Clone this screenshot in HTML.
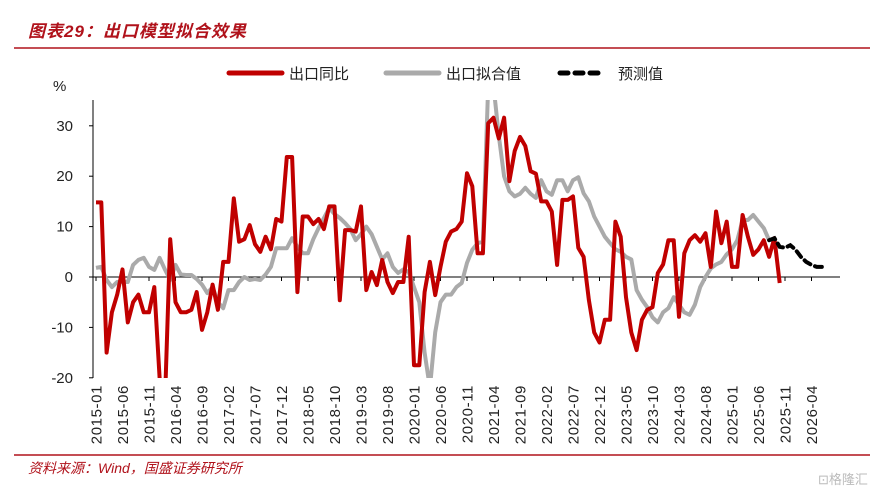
<!DOCTYPE html>
<html><head><meta charset="utf-8"><style>
body{margin:0;background:#fff;width:886px;height:494px;overflow:hidden;font-family:"Liberation Sans","Noto Sans CJK SC",sans-serif}
svg{position:absolute;left:0;top:0}
</style></head><body>
<svg width="886" height="494">
<text x="28" y="37" font-size="17" font-weight="bold" font-style="italic" fill="#b0121b" letter-spacing="1">图表29：出口模型拟合效果</text>
<line x1="14" y1="48" x2="870" y2="48" stroke="#b0121b" stroke-width="1.5"/>
<g>
<line x1="229" y1="73" x2="282" y2="73" stroke="#c00000" stroke-width="5" stroke-linecap="round"/>
<text x="289" y="79" font-size="15" fill="#222">出口同比</text>
<line x1="386" y1="73" x2="439" y2="73" stroke="#aaa" stroke-width="5" stroke-linecap="round"/>
<text x="446" y="79" font-size="15" fill="#222">出口拟合值</text>
<line x1="560" y1="73" x2="605" y2="73" stroke="#000" stroke-width="5" stroke-dasharray="8,7" stroke-linecap="round"/>
<text x="618" y="79" font-size="15" fill="#222">预测值</text>
</g>
<text x="53" y="91" font-size="15" fill="#222">%</text>
<defs><clipPath id="pc"><rect x="93" y="100" width="760" height="278"/></clipPath></defs>
<g id="axes"></g>
<g id="series" clip-path="url(#pc)"></g>
<line x1="14" y1="455" x2="870" y2="455" stroke="#b0121b" stroke-width="1.5"/>
<text x="28" y="473" font-size="14" font-style="italic" fill="#b0121b">资料来源：Wind，国盛证券研究所</text>
<text x="818" y="484" font-size="13" fill="#bbb">⊡格隆汇</text>
</svg>
<script>
const exportYoY=[14.8,14.8,-15,-7,-3.5,1.5,-9,-5,-3.5,-7,-7,-2,-20,-25,7.5,-5,-7,-7,-6.5,-3,-10.5,-7,-1.5,-6.5,3,3,15.6,7,7.5,10.3,6.5,5,8,5.5,11.5,11,23.8,23.8,-3,12,12,10.5,11.5,9.5,14,14,
-4.6,9.3,9.3,9,14,-2.6,1,-1.6,3.4,-1,-3.2,-1,-1,8,-17.5,-17.5,-3,3,-3.6,2,7,9,9.5,11,20.6,18,4.7,4.7,30.5,31.6,27.5,31.6,19,25,27.8,26,21,20.5,15,15,13,2.4,15.3,15.3,16,5.8,
4,-4.6,-11,-13,-8.5,-8.5,11,8,-4,-11,-14.5,-8.5,-6.5,-6,0.8,2.5,7.3,7.3,-7.9,4.7,7.3,8.3,7,8.7,2,13,6.7,11,2,2,12.3,8,4.4,5.5,7.3,4,7.7,-1.2];
const fitted=[1.8,2,-0.6,-2,-1,-1,-1,2.4,3.4,3.8,2,1.4,3.8,1.5,-0.6,2.4,0.5,0.4,0.4,-0.4,-1.5,-3.2,-2,-5,-6.2,-2.6,-2.6,-1,0,-0.6,-0.4,-0.6,0.5,2,5.7,5.7,5.7,7.7,6,4.7,4.7,7.5,9.7,11.7,13.7,12.5,11.7,10.7,9.5,7.3,8.5,10,8.5,6,3.5,4.7,2,0.8,1.5,1,-2,-5,-15,-22,-11,-5,-3.5,-3.5,-2,-1.2,2.8,5.4,6.7,7,38,38,28,20,17,16,16.5,17.7,16.5,15.7,19.2,17,16.3,19.2,19.2,17,19.2,19.8,16.6,15,12,10,8,6.7,5.5,5,4,3.5,-2.6,-4.5,-6,-8,-9,-7,-6.2,-4,-5.5,-7,-7.5,-5.5,-2,0,1.7,2.5,3,4.5,5.5,7.3,11.3,11.3,12.3,11,9.7,7.3];
const forecastStart=127;
const forecast=[7.3,7.7,6,5.8,6.3,5.4,4,3,2.4,2,2];
const yTicks=[30,20,10,0,-10,-20];
const xTickLabels=["2015-01","2015-06","2015-11","2016-04","2016-09","2017-02","2017-07","2017-12","2018-05","2018-10","2019-03","2019-08","2020-01","2020-06","2020-11","2021-04","2021-09","2022-02","2022-07","2022-12","2023-05","2023-10","2024-03","2024-08","2025-01","2025-06","2025-11","2026-04"];
const NS="http://www.w3.org/2000/svg";
const X=i=>96+i*5.3;
const Y=v=>277-v*5.04;
const axes=document.getElementById('axes'), ser=document.getElementById('series');
function mk(tag,attrs,parent){const e=document.createElementNS(NS,tag);for(const k in attrs)e.setAttribute(k,attrs[k]);parent.appendChild(e);return e;}
let e=mk('line',{x1:93,y1:100,x2:93,y2:378,stroke:'#000','stroke-width':1},axes);


yTicks.forEach(v=>{
 let t=mk('line',{x1:89,y1:Y(v),x2:93,y2:Y(v),stroke:'#000'},axes);
 
 
 let l=mk('text',{x:73,y:Y(v)+5,'font-size':15,'text-anchor':'end',fill:'#222'},axes);
 l.textContent=v;
 
 
});
e=mk('line',{x1:93,y1:Y(0),x2:840,y2:Y(0),stroke:'#000','stroke-width':1},axes);


xTickLabels.forEach((s,k)=>{
 const x=X(k*5);
 let t=mk('line',{x1:x,y1:Y(0),x2:x,y2:Y(0)+4,stroke:'#000'},axes);
 
 
 let l=mk('text',{x:0,y:0,'font-size':15,'letter-spacing':'0.6','text-anchor':'end',fill:'#222',transform:`translate(${x+5.5},385) rotate(-90)`},axes);
 l.textContent=s;
 
 
});
function path(arr,off){return arr.map((v,i)=>(i?'L':'M')+X(i+off).toFixed(1)+','+Y(v).toFixed(1)).join('');}
e=mk('path',{d:path(fitted,0),fill:'none',stroke:'#aaa','stroke-width':4,'stroke-linejoin':'round'},ser);


e=mk('path',{d:path(exportYoY,0),fill:'none',stroke:'#c00000','stroke-width':4,'stroke-linejoin':'round'},ser);


e=mk('path',{d:path(forecast,forecastStart),fill:'none',stroke:'#000','stroke-width':4,'stroke-dasharray':'7,5','stroke-linecap':'round'},ser);


</script>
</body></html>
